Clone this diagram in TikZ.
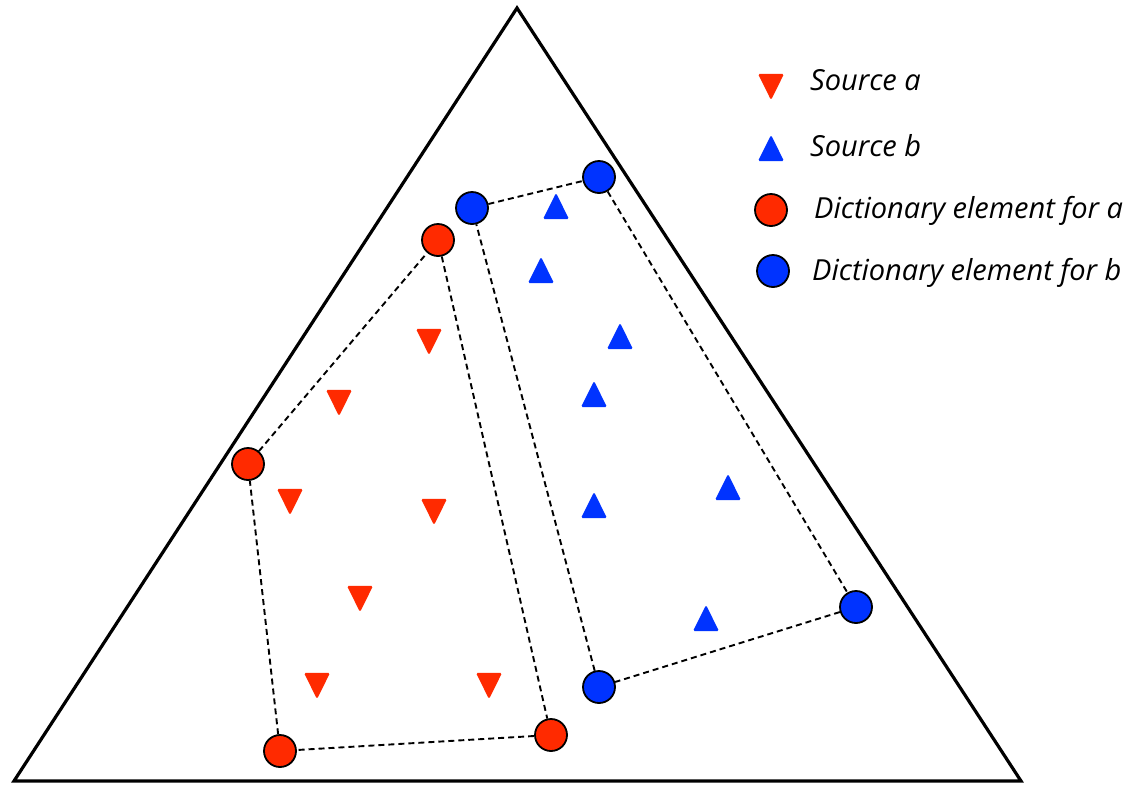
\documentclass[tikz,border=0pt]{standalone}
\usepackage{fontspec}
\setmainfont{Open Sans}
\usetikzlibrary{shapes.geometric}
\definecolor{srcred}{RGB}{255,42,0}
\definecolor{srcblue}{RGB}{0,51,255}
\tikzset{
  dictnode/.style={circle, draw=black, line width=1.8pt, minimum size=32pt, inner sep=0pt},
  dicta/.style={dictnode, fill=srcred},
  dictb/.style={dictnode, fill=srcblue},
  tri/.style={isosceles triangle, isosceles triangle apex angle=53, minimum width=26pt, minimum height=26pt, inner sep=0pt, rounded corners=1.5pt},
  srca/.style={tri, fill=srcred, shape border rotate=270, yshift=3pt},
  srcb/.style={tri, fill=srcblue, shape border rotate=90, yshift=-3pt},
  hull/.style={dash pattern=on 6pt off 4pt, line width=1.9pt},
  legtext/.style={anchor=west, font=\fontsize{29}{34}\selectfont\itshape, inner sep=0pt}
}
\begin{document}
\begin{tikzpicture}[x=1pt, y=-1pt]
\useasboundingbox (0,0) rectangle (1132,785);
\fill[white] (0,0) rectangle (1132,785);

% simplex
\coordinate (top) at (517,8);
\coordinate (bl) at (14,781);
\coordinate (br) at (1021,781);
\draw[line width=3.2pt, line join=miter] (top) -- (br) -- (bl) -- cycle;

% dictionary elements
\node[dicta] (a1) at (248,464) {};
\node[dicta] (a2) at (438,240) {};
\node[dicta] (a3) at (551,735) {};
\node[dicta] (a4) at (280,751) {};
\node[dictb] (b1) at (472,208) {};
\node[dictb] (b2) at (599,177) {};
\node[dictb] (b3) at (856,607) {};
\node[dictb] (b4) at (599,687) {};

% hulls
\draw[hull] (a1) -- (a2) -- (a3) -- (a4) -- (a1);
\draw[hull] (b1) -- (b2) -- (b3) -- (b4) -- (b1);

% source a samples
\node[srca] (sa1) at (429,340) {};
\node[srca] (sa2) at (339,401) {};
\node[srca] (sa3) at (290,500) {};
\node[srca] (sa4) at (434,510) {};
\node[srca] (sa5) at (360,597) {};
\node[srca] (sa6) at (317,684) {};
\node[srca] (sa7) at (489,684) {};

% source b samples
\node[srcb] (sb1) at (556,208) {};
\node[srcb] (sb2) at (541,272) {};
\node[srcb] (sb3) at (620,338) {};
\node[srcb] (sb4) at (594,396) {};
\node[srcb] (sb5) at (594,507) {};
\node[srcb] (sb6) at (728,489) {};
\node[srcb] (sb7) at (706,620) {};

% legend
\node[srca] (la) at (771,85) {};
\node[srcb] (lb) at (771,150) {};
\node[dicta] (lda) at (771,210) {};
\node[dictb] (ldb) at (773,271) {};
\node[legtext] (ta) at (810,80) {Source a};
\node[legtext] (tb) at (810,146) {Source b};
\node[legtext] (tda) at (814,211) {Dictionary element for a};
\node[legtext] (tdb) at (812,273) {Dictionary element for b};
\end{tikzpicture}
\end{document}
